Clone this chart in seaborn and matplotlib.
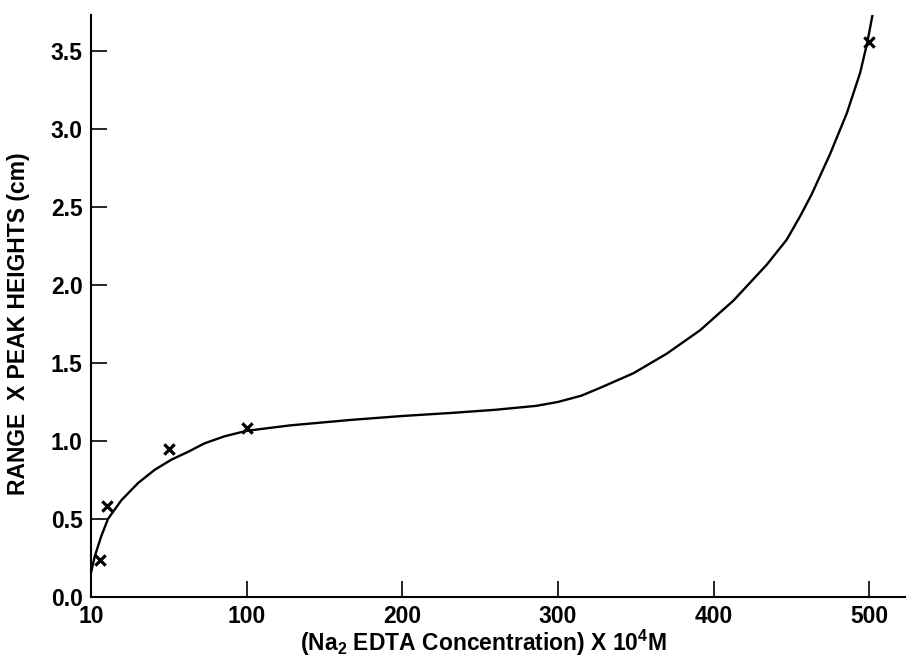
import matplotlib
matplotlib.use("Agg")
import matplotlib.pyplot as plt
import seaborn as sns
import pandas as pd

# measured points
point_x = [6, 10, 50, 100, 500]
point_y = [0.24, 0.585, 0.95, 1.08, 3.56]

# fitted curve
curve_x = [0, 2.4, 6.6, 10.9, 19.5, 30.2, 40.9, 51.6, 62.3, 73, 85.8, 100,
           128, 167, 200, 232, 260, 286, 300, 315, 327, 348.5, 370, 391.4,
           412.8, 434.2, 447, 455.6, 463, 474.9, 485.6, 494.2, 498.9, 502.3]
curve_y = [0.155, 0.26, 0.39, 0.50, 0.62, 0.73, 0.815, 0.88, 0.93, 0.985,
           1.03, 1.065, 1.10, 1.135, 1.16, 1.18, 1.20, 1.225, 1.25, 1.29,
           1.34, 1.434, 1.56, 1.71, 1.90, 2.13, 2.29, 2.44, 2.58, 2.84, 3.10,
           3.36, 3.56, 3.74]

x_ticks = [0, 100, 200, 300, 400, 500]
x_tick_labels = ["10", "100", "200", "300", "400", "500"]
y_ticks = [0.0, 0.5, 1.0, 1.5, 2.0, 2.5, 3.0, 3.5]
y_tick_labels = ["0.0", "0.5", "1.0", "1.5", "2.0", "2.5", "3.0", "3.5"]

x_label = r"(Na$_2$ EDTA Concentration) X 10$^4$M"
y_label = "RANGE  X PEAK HEIGHTS (cm)"

sns.set_style("ticks")
plt.rcParams["font.family"] = ["Liberation Sans", "DejaVu Sans"]
plt.rcParams["font.weight"] = "bold"
plt.rcParams["text.color"] = "black"
plt.rcParams["axes.labelcolor"] = "black"
plt.rcParams["mathtext.fontset"] = "custom"
plt.rcParams["mathtext.rm"] = "Liberation Sans:bold"
plt.rcParams["mathtext.default"] = "rm"

fig = plt.figure(figsize=(9.06, 6.6), dpi=100)
ax = fig.add_axes([91 / 906, 63 / 660, (905 - 91) / 906, (597 - 15) / 660])

curve_df = pd.DataFrame({"x": curve_x, "y": curve_y})
pts_df = pd.DataFrame({"x": point_x, "y": point_y})

sns.lineplot(data=curve_df, x="x", y="y", ax=ax, color="black", linewidth=1.7,
             estimator=None, sort=False, solid_joinstyle="round",
             solid_capstyle="round")
sns.scatterplot(data=pts_df, x="x", y="y", ax=ax, marker="x", color="black",
                s=55, linewidth=2.3, zorder=5)

ax.set_xlim(0, 523)
ax.set_ylim(0, 3.73)
ax.set_xticks(x_ticks)
ax.set_xticklabels(x_tick_labels)
ax.set_yticks(y_ticks)
ax.set_yticklabels(y_tick_labels)

for side in ["top", "right"]:
    ax.spines[side].set_visible(False)
for side in ["left", "bottom"]:
    ax.spines[side].set_linewidth(1.5)
    ax.spines[side].set_color("black")

ax.tick_params(axis="both", direction="in", length=11.5, width=1.2,
               colors="black", labelsize=16.5)
ax.tick_params(axis="x", pad=6)
ax.tick_params(axis="y", pad=6)
for lbl in ax.get_xticklabels() + ax.get_yticklabels():
    lbl.set_fontweight("bold")
    lbl.set_color("black")

ax.set_xlabel(x_label, fontsize=16.5, fontweight="bold", color="black")
ax.set_ylabel(y_label, fontsize=16.5, fontweight="bold", color="black")
ax.xaxis.set_label_coords((483 - 91) / (905 - 91), -(643 - 597) / (597 - 15))
ax.yaxis.set_label_coords(-(91 - 19) / (905 - 91), (597 - 324) / (597 - 15))
ax.xaxis.label.set_va("center")
ax.yaxis.label.set_va("center")

fig.savefig("out.png", dpi=100, facecolor="white")
